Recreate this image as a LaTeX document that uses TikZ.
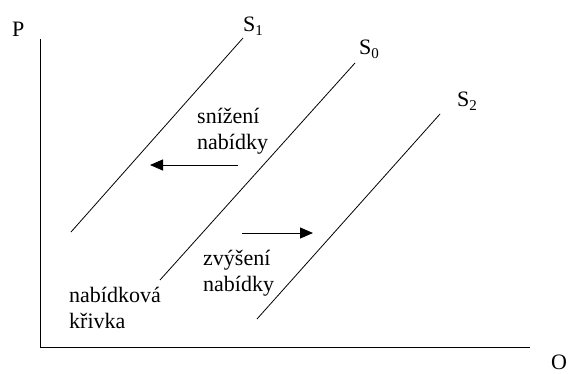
\documentclass[tikz,border=0pt]{standalone}
\usepackage{fontspec}
\setmainfont{Liberation Serif}
\usetikzlibrary{arrows.meta}
\begin{document}
\begin{tikzpicture}[x=1pt,y=-1pt,
  lbl/.style={inner sep=0pt,anchor=base west,align=left,font=\fontsize{22}{26}\selectfont},
  curve/.style={line width=0.8pt},
  axis/.style={line width=1pt},
  shiftarrow/.style={line width=1pt,-{Triangle[length=13pt,width=11pt]}}]
\useasboundingbox (0,0) rectangle (569,373);
% axes
\coordinate (top) at (40,39);
\coordinate (orig) at (40,347);
\coordinate (right) at (530,347);
\draw[axis] (top) -- (orig) -- (right);
\node[lbl] (P) at (12,36) {P};
\node[lbl] (O) at (551,369) {O};
% supply curves
\coordinate (s1a) at (71,232); \coordinate (s1b) at (243,38);
\coordinate (s0a) at (160,280); \coordinate (s0b) at (355,63);
\coordinate (s2a) at (257,319); \coordinate (s2b) at (440,114);
\draw[curve] (s1a) -- (s1b);
\draw[curve] (s0a) -- (s0b);
\draw[curve] (s2a) -- (s2b);
\node[lbl] (S1) at (243,31) {S{\fontsize{15}{15}\selectfont\raisebox{-4pt}{1}}};
\node[lbl] (S0) at (359,54) {S{\fontsize{15}{15}\selectfont\raisebox{-4pt}{0}}};
\node[lbl] (S2) at (457,106) {S{\fontsize{15}{15}\selectfont\raisebox{-4pt}{2}}};
% arrows
\coordinate (la) at (238,165); \coordinate (lb) at (150,165);
\coordinate (ra) at (242,233); \coordinate (rb) at (313,233);
\draw[shiftarrow] (la) -- (lb);
\draw[shiftarrow] (ra) -- (rb);
% labels (base anchor = baseline of last line)
\node[lbl] (dec) at (197,149) {snížení\\nabídky};
\node[lbl] (inc) at (203,291) {zvýšení\\nabídky};
\node[lbl] (sc) at (69,328) {nabídková\\křivka};
\end{tikzpicture}
\end{document}
